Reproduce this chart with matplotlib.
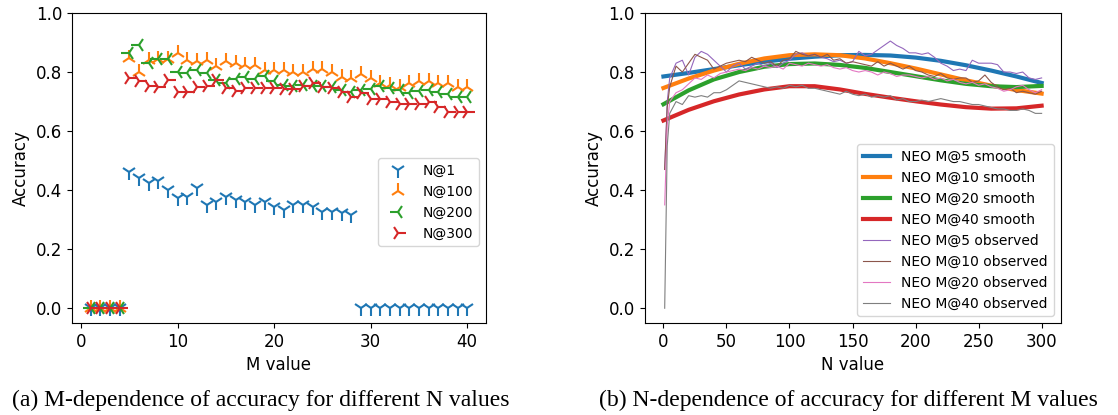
import matplotlib
matplotlib.use("Agg")
import matplotlib.pyplot as plt

# ---------------- Left panel data ----------------
M_values = list(range(1, 41))
acc_N1 = [0, 0, 0, 0, 0.463, 0.440, 0.423, 0.430, 0.400, 0.372, 0.378, 0.406, 0.350, 0.360,
          0.378, 0.367, 0.360, 0.350, 0.360, 0.344, 0.333, 0.350, 0.350, 0.344, 0.327, 0.327,
          0.321, 0.316, 0, 0, 0, 0, 0, 0, 0, 0, 0, 0, 0, 0]
acc_N100 = [0, 0, 0, 0, 0.847, 0.800, 0.840, 0.844, 0.844, 0.864, 0.840, 0.836, 0.840, 0.820,
            0.836, 0.830, 0.825, 0.825, 0.808, 0.808, 0.808, 0.800, 0.800, 0.810, 0.810, 0.800,
            0.783, 0.780, 0.794, 0.780, 0.762, 0.757, 0.750, 0.762, 0.768, 0.768, 0.762, 0.762,
            0.750, 0.749]
acc_N200 = [0, 0, 0, 0, 0.864, 0.893, 0.830, 0.844, 0.844, 0.800, 0.796, 0.808, 0.796, 0.774,
            0.762, 0.776, 0.783, 0.776, 0.787, 0.771, 0.757, 0.753, 0.757, 0.753, 0.753, 0.749,
            0.740, 0.734, 0.740, 0.742, 0.753, 0.745, 0.740, 0.728, 0.737, 0.740, 0.731, 0.725,
            0.715, 0.715]
acc_N300 = [0, 0, 0, 0, 0.779, 0.768, 0.753, 0.749, 0.774, 0.734, 0.734, 0.749, 0.753, 0.774,
            0.745, 0.737, 0.745, 0.745, 0.745, 0.745, 0.742, 0.742, 0.753, 0.762, 0.749, 0.745,
            0.734, 0.717, 0.728, 0.708, 0.708, 0.697, 0.692, 0.692, 0.692, 0.697, 0.681, 0.666,
            0.666, 0.663]
left_labels = ["N@1", "N@100", "N@200", "N@300"]

# ---------------- Right panel data ----------------
N_smooth = [0, 20, 40, 60, 80, 100, 120, 140, 160, 180, 200, 220, 240, 260, 280, 300]
smooth_M5 = [0.785, 0.797, 0.810, 0.823, 0.835, 0.845, 0.852, 0.857, 0.858, 0.856, 0.849,
             0.838, 0.823, 0.805, 0.785, 0.763]
smooth_M10 = [0.746, 0.778, 0.805, 0.828, 0.846, 0.857, 0.860, 0.857, 0.846, 0.830, 0.812,
              0.792, 0.772, 0.754, 0.739, 0.727]
smooth_M20 = [0.691, 0.738, 0.775, 0.800, 0.818, 0.827, 0.829, 0.824, 0.814, 0.800, 0.786,
              0.772, 0.760, 0.752, 0.749, 0.753]
smooth_M40 = [0.636, 0.672, 0.701, 0.724, 0.741, 0.752, 0.752, 0.741, 0.726, 0.713, 0.701,
              0.690, 0.681, 0.676, 0.677, 0.686]

N_obs = [1, 3] + list(range(5, 301, 5))
obs_M5 = [0.47, 0.70, 0.78, 0.83, 0.84, 0.79, 0.85, 0.87, 0.86, 0.84, 0.82, 0.80, 0.82, 0.83,
          0.81, 0.82, 0.83, 0.82, 0.83, 0.815, 0.83, 0.84, 0.86, 0.865, 0.855, 0.86, 0.85,
          0.845, 0.835, 0.84, 0.83, 0.835, 0.87, 0.855, 0.86, 0.875, 0.89, 0.905, 0.89, 0.88,
          0.865, 0.865, 0.86, 0.865, 0.85, 0.83, 0.82, 0.805, 0.81, 0.805, 0.84, 0.83, 0.83,
          0.83, 0.825, 0.80, 0.80, 0.795, 0.80, 0.78, 0.775, 0.78]
obs_M10 = [0.47, 0.68, 0.75, 0.82, 0.80, 0.83, 0.86, 0.85, 0.84, 0.81, 0.82, 0.83, 0.835,
           0.84, 0.835, 0.85, 0.84, 0.83, 0.835, 0.82, 0.84, 0.845, 0.87, 0.86, 0.855, 0.86,
           0.85, 0.86, 0.84, 0.845, 0.83, 0.835, 0.83, 0.825, 0.82, 0.835, 0.82, 0.83, 0.82,
           0.81, 0.82, 0.805, 0.80, 0.79, 0.785, 0.795, 0.78, 0.775, 0.78, 0.78, 0.765, 0.77,
           0.79, 0.765, 0.75, 0.74, 0.745, 0.73, 0.735, 0.73, 0.725, 0.735]
obs_M20 = [0.35, 0.62, 0.70, 0.73, 0.74, 0.76, 0.78, 0.775, 0.79, 0.78, 0.795, 0.80, 0.805,
           0.81, 0.805, 0.815, 0.81, 0.82, 0.815, 0.82, 0.81, 0.83, 0.825, 0.82, 0.83, 0.825,
           0.82, 0.825, 0.815, 0.81, 0.815, 0.805, 0.80, 0.805, 0.80, 0.79, 0.80, 0.795, 0.785,
           0.79, 0.79, 0.785, 0.78, 0.785, 0.775, 0.78, 0.77, 0.775, 0.765, 0.76, 0.765, 0.755,
           0.76, 0.75, 0.745, 0.735, 0.74, 0.75, 0.755, 0.74, 0.73, 0.74]
obs_M40 = [0.0, 0.55, 0.66, 0.70, 0.69, 0.72, 0.715, 0.72, 0.715, 0.73, 0.73, 0.74, 0.755,
           0.77, 0.765, 0.76, 0.755, 0.75, 0.745, 0.75, 0.745, 0.755, 0.75, 0.755, 0.745,
           0.745, 0.74, 0.735, 0.73, 0.725, 0.735, 0.725, 0.72, 0.725, 0.715, 0.72, 0.715,
           0.72, 0.705, 0.71, 0.70, 0.70, 0.705, 0.70, 0.705, 0.71, 0.705, 0.70, 0.70, 0.695,
           0.69, 0.69, 0.685, 0.68, 0.675, 0.675, 0.67, 0.67, 0.675, 0.67, 0.66, 0.66]

# ---------------- Figure ----------------
fig = plt.figure(figsize=(11.18, 4.15), dpi=100)
axL = fig.add_axes([0.0644, 0.2217, 0.3703, 0.747])
axR = fig.add_axes([0.5765, 0.2217, 0.3721, 0.747])

markers = ["1", "2", "3", "4"]
colors = ["tab:blue", "tab:orange", "tab:green", "tab:red"]
for vals, mk, c, lab in zip([acc_N1, acc_N100, acc_N200, acc_N300], markers, colors, left_labels):
    axL.plot(M_values, vals, linestyle="none", marker=mk, color=c, markersize=11,
             markeredgewidth=1.5, label=lab)
axL.set_ylim(-0.05, 1.0)
axL.set_xlabel("M value", fontsize=12)
axL.set_ylabel("Accuracy", fontsize=12)
axL.tick_params(labelsize=12)
axL.legend(loc="center right", bbox_to_anchor=(1.0, 0.39), fontsize=10)

smooth_sets = [smooth_M5, smooth_M10, smooth_M20, smooth_M40]
smooth_labels = ["NEO M@5 smooth", "NEO M@10 smooth", "NEO M@20 smooth", "NEO M@40 smooth"]
for vals, c, lab in zip(smooth_sets, colors, smooth_labels):
    axR.plot(N_smooth, vals, color=c, linewidth=3, label=lab)
obs_sets = [obs_M5, obs_M10, obs_M20, obs_M40]
obs_colors = ["tab:purple", "tab:brown", "tab:pink", "tab:gray"]
obs_labels = ["NEO M@5 observed", "NEO M@10 observed", "NEO M@20 observed", "NEO M@40 observed"]
for vals, c, lab in zip(obs_sets, obs_colors, obs_labels):
    axR.plot(N_obs, vals, color=c, linewidth=0.8, label=lab)
axR.set_ylim(-0.05, 1.0)
axR.set_xlabel("N value", fontsize=12)
axR.set_ylabel("Accuracy", fontsize=12)
axR.tick_params(labelsize=12)
axR.legend(loc="lower right", fontsize=10)

fig.text(0.233, 0.036, "(a) M-dependence of accuracy for different N values",
         ha="center", va="center", family="Liberation Serif", fontsize=17)
fig.text(0.759, 0.036, "(b) N-dependence of accuracy for different M values",
         ha="center", va="center", family="Liberation Serif", fontsize=17)

fig.savefig("out.png", dpi=100)
